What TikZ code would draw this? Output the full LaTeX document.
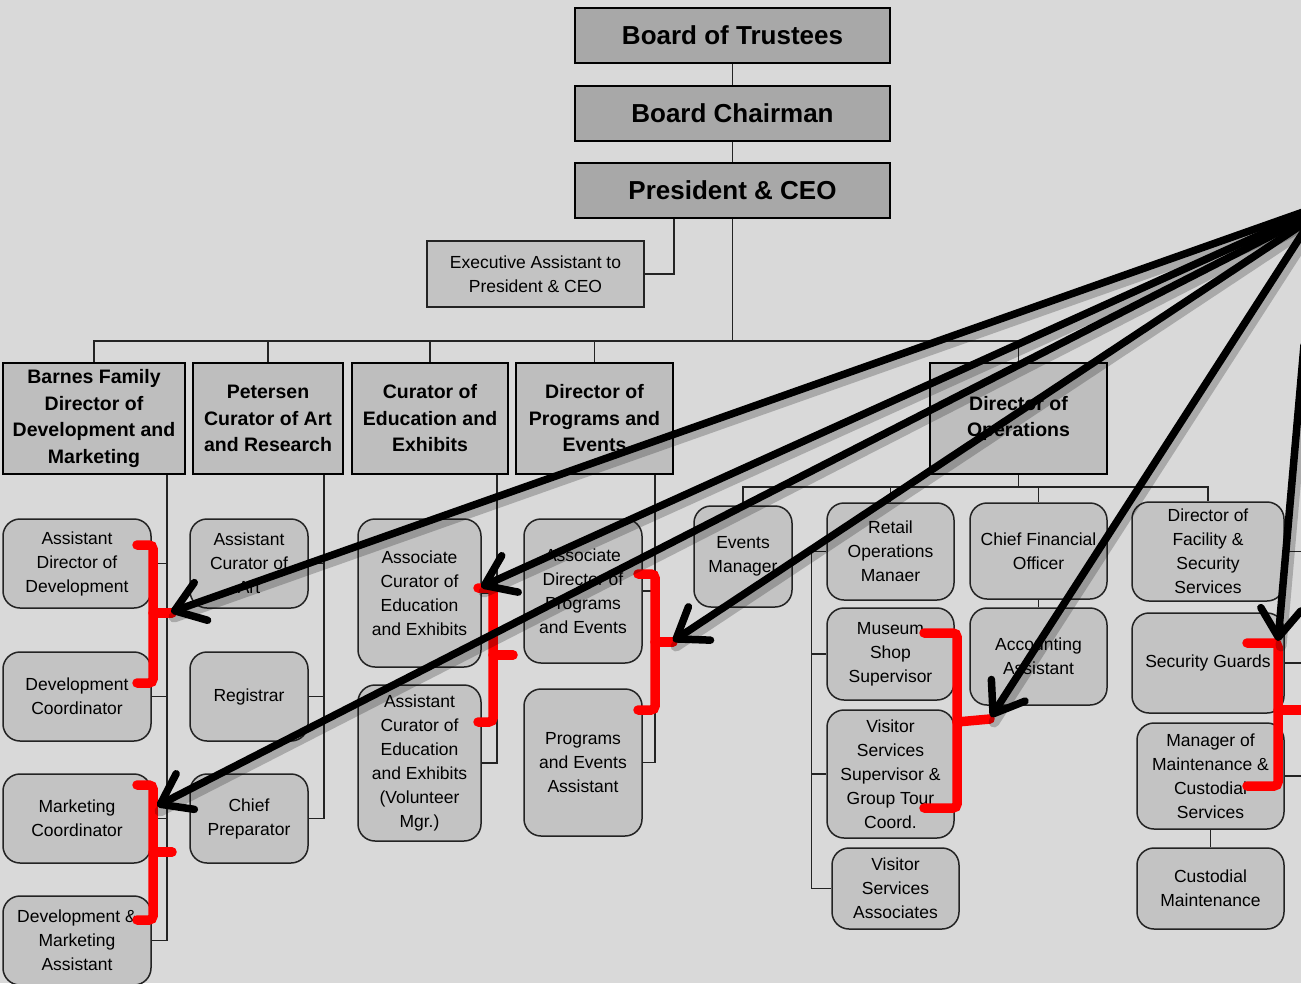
\documentclass[tikz,border=0pt]{standalone}
\usepackage{fontspec}
\setmainfont{Liberation Sans}
\usetikzlibrary{arrows.meta,calc}
\definecolor{bg}{RGB}{217,217,217}
\definecolor{topfill}{RGB}{168,168,168}
\definecolor{midfill}{RGB}{190,190,190}
\definecolor{boxfill}{RGB}{195,195,195}
\definecolor{edge}{RGB}{35,35,35}
\definecolor{bred}{RGB}{255,0,0}
\begin{document}
\begin{tikzpicture}[x=1pt,y=-1pt,
 topbox/.style={draw=black, line width=2.8pt, fill=topfill, inner sep=0pt, font=\fontsize{26}{30}\selectfont\bfseries, minimum width=315pt, minimum height=55pt},
 midbox/.style={draw=black, line width=2.4pt, fill=midfill, inner sep=0pt, align=center, font=\fontsize{19.5}{26.5}\selectfont\bfseries, minimum height=111pt},
 execbox/.style={draw=edge, line width=1.5pt, fill=boxfill, align=center, inner sep=0pt, font=\fontsize{17.5}{24}\selectfont},
 rbox/.style={draw=edge, line width=1.5pt, fill=boxfill, rounded corners=17pt, align=center, inner sep=0pt, font=\fontsize{17.5}{24}\selectfont},
 conn/.style={draw=edge, line width=1.5pt},
 pointer/.style={draw=black, line width=7.5pt, line cap=round, -{Straight Barb[length=28pt,width=40pt,round]}},
 pshadow/.style={draw=black, opacity=0.22, line width=11pt, line cap=round},
 bracket/.style={draw=bred, line width=9.5pt, rounded corners=4pt, line cap=round},
]
\useasboundingbox (0,0) rectangle (1301,983);
\clip (0,0) rectangle (1301,983);
\fill[bg] (0,0) rectangle (1301,983);

% top chain
\node[topbox] (bot) at (732.5,35.5) {Board of Trustees};
\node[topbox] (bch) at (732.5,113.5) {Board Chairman};
\node[topbox] (pres) at (732.5,190.5) {President \& CEO};
\node[execbox, minimum width=217pt, minimum height=66pt] (exec) at (535.5,274) {Executive Assistant to\\President \& CEO};

% second level
\node[midbox, minimum width=182pt] (barnes) at (94,418.5) {Barnes Family\\Director of\\Development and\\Marketing};
\node[midbox, minimum width=150pt] (petersen) at (268,418.5) {Petersen\\Curator of Art\\and Research};
\node[midbox, minimum width=156pt] (curator) at (430,418.5) {Curator of\\Education and\\Exhibits};
\node[midbox, minimum width=157pt] (dirprog) at (594.5,418.5) {Director of\\Programs and\\Events};
\node[midbox, minimum width=177pt] (dirops) at (1018.5,418.5) {Director of\\Operations};

% Barnes column
\node[rbox, minimum width=148pt, minimum height=89pt] (asstdir) at (77,563.5) {Assistant\\Director of\\Development};
\node[rbox, minimum width=148pt, minimum height=89pt] (devcoord) at (77,696.5) {Development\\Coordinator};
\node[rbox, minimum width=148pt, minimum height=89pt] (mktcoord) at (77,818.5) {Marketing\\Coordinator};
\node[rbox, minimum width=148pt, minimum height=89pt] (devmkt) at (77,940.5) {Development \&\\Marketing\\Assistant};

% Petersen column
\node[rbox, minimum width=118pt, minimum height=89pt] (asstcur) at (249,563.5) {Assistant\\Curator of\\Art};
\node[rbox, minimum width=118pt, minimum height=89pt] (registrar) at (249,696.5) {Registrar};
\node[rbox, minimum width=118pt, minimum height=89pt] (chiefprep) at (249,818.5) {Chief\\Preparator};

% Curator column
\node[rbox, minimum width=123pt, minimum height=148pt] (assoccur) at (419.5,593) {Associate\\Curator of\\Education\\and Exhibits};
\node[rbox, minimum width=123pt, minimum height=156pt] (asstcurvol) at (419.5,763) {Assistant\\Curator of\\Education\\and Exhibits\\(Volunteer\\Mgr.)};

% Programs column
\node[rbox, minimum width=118pt, minimum height=144pt] (assocdir) at (583,591) {Associate\\Director of\\Programs\\and Events};
\node[rbox, minimum width=118pt, minimum height=147pt] (progasst) at (583,762.5) {Programs\\and Events\\Assistant};

% Operations
\node[rbox, minimum width=98pt, minimum height=101pt] (eventsmgr) at (743,556.5) {Events\\Manager};
\node[rbox, minimum width=127pt, minimum height=97pt] (retail) at (890.5,551.5) {Retail\\Operations\\Manaer};
\node[rbox, minimum width=127pt, minimum height=92pt] (museum) at (890.5,654) {Museum\\Shop\\Supervisor};
\node[rbox, minimum width=127pt, minimum height=128pt] (vss) at (890.5,774) {Visitor\\Services\\Supervisor \&\\Group Tour\\Coord.};
\node[rbox, minimum width=127pt, minimum height=81pt] (vsa) at (895.5,888.5) {Visitor\\Services\\Associates};
\node[rbox, minimum width=137pt, minimum height=96pt] (cfo) at (1038.5,551) {Chief Financial\\Officer};
\node[rbox, minimum width=137pt, minimum height=97pt] (acct) at (1038.5,656.5) {Accounting\\Assistant};
\node[rbox, minimum width=152pt, minimum height=99pt] (dirfac) at (1208,551.5) {Director of\\Facility \&\\Security\\Services};
\node[rbox, minimum width=152pt, minimum height=100pt] (secg) at (1208,663) {Security Guards};
\node[rbox, minimum width=147pt, minimum height=106pt] (mgrmaint) at (1210.5,776) {Manager of\\Maintenance \&\\Custodial\\Services};
\node[rbox, minimum width=147pt, minimum height=81pt] (custmaint) at (1210.5,888.5) {Custodial\\Maintenance};

% connectors
\draw[conn] (bot.south) -- (bch.north);
\draw[conn] (bch.south) -- (pres.north);
\draw[conn] ([xshift=-58.5pt]pres.south) |- (exec.east);
\coordinate (bus) at (733,341);
\draw[conn] (pres.south) -- (pres.south |- bus);
\draw[conn] (barnes.north) |- (bus) -| (dirops.north);
\foreach \n in {petersen,curator,dirprog} \draw[conn] (\n.north) -- (\n.north |- bus);

\coordinate (bx) at ([xshift=-19pt]barnes.south east);
\draw[conn] (bx) |- (devmkt.east);
\foreach \n in {asstdir,devcoord,mktcoord} \draw[conn] (\n.east) -- (\n.east -| bx);

\coordinate (px) at ([xshift=-20pt]petersen.south east);
\draw[conn] (px) |- (chiefprep.east);
\foreach \n in {asstcur,registrar} \draw[conn] (\n.east) -- (\n.east -| px);

\coordinate (cx) at ([xshift=-12pt]curator.south east);
\draw[conn] (cx) |- (asstcurvol.east);
\draw[conn] (assoccur.east) -- (assoccur.east -| cx);

\coordinate (dx) at ([xshift=-19pt]dirprog.south east);
\draw[conn] (dx) |- (progasst.east);
\draw[conn] (assocdir.east) -- (assocdir.east -| dx);

\coordinate (bus2) at (1018.5,487);
\draw[conn] (dirops.south) -- (bus2);
\draw[conn] (eventsmgr.north) |- (bus2) -| (dirfac.north);
\draw[conn] (retail.north) -- (retail.north |- bus2);
\draw[conn] (cfo.north) -- (cfo.north |- bus2);

\coordinate (rx) at ([xshift=-15pt]retail.west);
\draw[conn] (retail.west) -- (rx) |- (vsa.west);
\foreach \n in {museum,vss} \draw[conn] (\n.west) -- (\n.west -| rx);

\draw[conn] (cfo.south) -- (acct.north);
\draw[conn] (mgrmaint.south) -- (custmaint.north);

\coordinate (fx) at ([xshift=18pt]dirfac.east);
\draw[conn] (dirfac.east) -- (fx) |- (mgrmaint.east);
\draw[conn] (secg.east) -- (secg.east -| fx);

% red brackets
\draw[bracket] (137,545) -| (153,683) -- (137,683);
\draw[bracket] (153,613) -- (172,613);
\draw[bracket] (137,785) -| (153,920) -- (137,920);
\draw[bracket] (153,852) -- (172,852);
\draw[bracket] (478,588) -| (493,722) -- (478,722);
\draw[bracket] (493,655) -- (513,655);
\draw[bracket] (638,574) -| (655,710) -- (638,710);
\draw[bracket] (655,642) -- (673,642);
\draw[bracket] (924,633) -| (957,808) -- (924,808);
\draw[bracket] (957,722) -- (990,719);
\draw[bracket] (1247,643) -| (1278,786) -- (1247,786);
\draw[bracket] (1278,710) -- (1306,710);

% black pointers
\coordinate (s1) at (1306,211);
\coordinate (s2) at (1306,214);
\coordinate (s3) at (1306,218);
\coordinate (s4) at (1306,222);
\coordinate (s5) at (1306,228);
\coordinate (s6) at (1304,345);
\coordinate (t1) at (171,612);
\coordinate (t2) at (481,587);
\coordinate (t3) at (157,806);
\coordinate (t4) at (673,641);
\coordinate (t5) at (991,717);
\coordinate (t6) at (1278,641);
\begin{scope}[transform canvas={shift={(3pt,-5pt)}}]
\foreach \s/\t in {s1/t1,s2/t2,s3/t3,s4/t4,s5/t5,s6/t6} \draw[pshadow] (\s) -- (\t);
\end{scope}
\foreach \s/\t in {s1/t1,s2/t2,s3/t3,s4/t4,s5/t5,s6/t6} \draw[pointer] (\s) -- (\t);
\end{tikzpicture}
\end{document}
